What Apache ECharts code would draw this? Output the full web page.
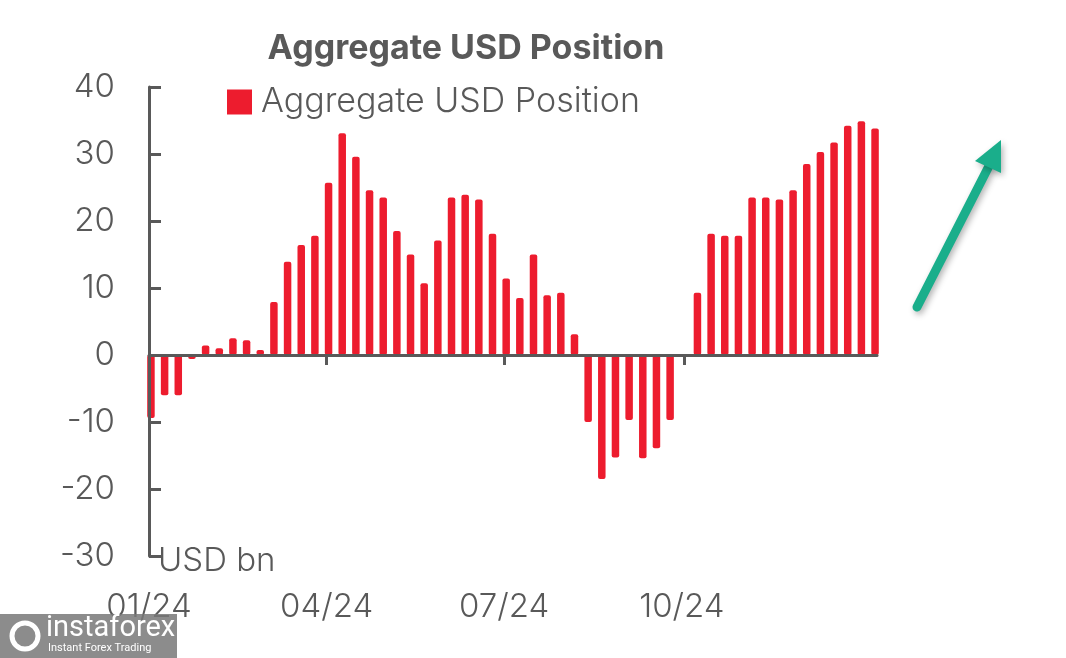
<!DOCTYPE html>
<html>
<head>
<meta charset="utf-8">
<script src="https://cdn.jsdelivr.net/npm/echarts@6/dist/echarts.min.js"></script>
<style>
html,body{margin:0;padding:0;background:#fff;}
#chart{width:1066px;height:658px;}
</style>
</head>
<body>
<div id="chart"></div>
<script>
// ---- data ----
const dates = [
  '2024-01-02','2024-01-09','2024-01-16','2024-01-23','2024-01-30',
  '2024-02-06','2024-02-13','2024-02-20','2024-02-27',
  '2024-03-05','2024-03-12','2024-03-19','2024-03-26',
  '2024-04-02','2024-04-09','2024-04-16','2024-04-23','2024-04-30',
  '2024-05-07','2024-05-14','2024-05-21','2024-05-28',
  '2024-06-04','2024-06-11','2024-06-18','2024-06-25',
  '2024-07-02','2024-07-09','2024-07-16','2024-07-23','2024-07-30',
  '2024-08-06','2024-08-13','2024-08-20','2024-08-27',
  '2024-09-03','2024-09-10','2024-09-17','2024-09-24',
  '2024-10-01','2024-10-08','2024-10-15','2024-10-22','2024-10-29',
  '2024-11-05','2024-11-12','2024-11-19','2024-11-26',
  '2024-12-03','2024-12-10','2024-12-17','2024-12-24','2024-12-31',
  '2025-01-07'
];
const usdPosition = [
  -9.4, -6.0, -6.0, -0.6, 1.4,
  1.0, 2.5, 2.2, 0.75,
  7.9, 13.9, 16.4, 17.8,
  25.7, 33.1, 29.6, 24.6, 23.5,
  18.5, 15.0, 10.7, 17.1,
  23.5, 23.9, 23.2, 18.1,
  11.4, 8.5, 15.0, 8.9, 9.3,
  3.1, -10.0, -18.5, -15.3,
  -9.7, -15.4, -13.9, -9.7,
  0, 9.3, 18.1, 17.8, 17.8,
  23.5, 23.5, 23.2, 24.6,
  28.5, 30.3, 31.7, 34.2, 34.9,
  33.8
];
const tickDates = ['2024-01-01','2024-04-01','2024-07-01','2024-10-01'];
const tickLabels = ['01/24','04/24','07/24','10/24'];
const seriesName = 'Aggregate USD Position';
const titleText = 'Aggregate USD Position';
const unitText = 'USD bn';

// ---- helpers ----
const base = Date.UTC(2024, 0, 1);
function dayOf(s) {
  const p = s.split('-').map(Number);
  return Math.round((Date.UTC(p[0], p[1] - 1, p[2]) - base) / 86400000);
}
const tickDays = tickDates.map(dayOf);
const barData = dates.map((d, i) => [dayOf(d), usdPosition[i]]);
function labelFor(v) {
  for (let i = 0; i < tickDays.length; i++) {
    if (Math.abs(tickDays[i] - v) <= 2) return tickLabels[i];
  }
  return '';
}

const GRAY = '#595959';
const RED = '#ED1C2E';
const FONT = "'Inter Light', Inter, sans-serif";
const FONT_B = "Inter, sans-serif";

const chart = echarts.init(document.getElementById('chart'));
chart.setOption({
  animation: false,
  backgroundColor: '#fff',
  title: {
    text: titleText,
    left: 466,
    textAlign: 'center',
    top: 32,
    padding: 0,
    textStyle: { fontFamily: FONT_B, fontWeight: 'bold', fontSize: 34, color: GRAY }
  },
  legend: {
    data: [seriesName],
    left: 227,
    top: 85,
    padding: 0,
    icon: 'rect',
    itemWidth: 25,
    itemHeight: 25,
    textStyle: { fontFamily: FONT, fontWeight: 300, fontSize: 34, color: GRAY, padding: [0, 0, 0, 4] }
  },
  grid: { left: 149, right: 189, top: 87, bottom: 102, outerBoundsMode: 'none', containLabel: false },
  xAxis: [
    {
      // bottom label axis
      type: 'value',
      position: 'bottom',
      min: 0,
      max: 373,
      interval: 91,
      splitLine: { show: false },
      axisLine: { show: false, onZero: false },
      axisTick: { show: false },
      axisLabel: {
        margin: 35,
        showMaxLabel: false,
        fontFamily: FONT, fontWeight: 300, fontSize: 33, color: GRAY,
        formatter: function (v) { return labelFor(v); }
      }
    },
    {
      // zero line axis
      type: 'value',
      position: 'top',
      min: 0,
      max: 373,
      interval: 91,
      z: 5,
      splitLine: { show: false },
      axisLine: { onZero: true, lineStyle: { color: GRAY, width: 3 } },
      axisTick: { show: true, inside: true, length: 10, customValues: tickDays.slice(1), lineStyle: { color: GRAY, width: 3 } },
      axisLabel: { show: false }
    }
  ],
  yAxis: {
    type: 'value',
    min: -30,
    max: 40,
    interval: 10,
    z: 5,
    splitLine: { show: false },
    axisLine: { show: true, onZero: false, lineStyle: { color: GRAY, width: 3 } },
    axisTick: { show: true, inside: true, length: 12, lineStyle: { color: GRAY, width: 3 } },
    axisLabel: { margin: 34, fontFamily: FONT, fontWeight: 300, fontSize: 33, color: GRAY }
  },
  series: [{
    name: seriesName,
    type: 'bar',
    xAxisIndex: 0,
    data: barData,
    barWidth: 7.5,
    itemStyle: { color: RED, borderRadius: 2 }
  }],
  graphic: [
    {
      type: 'text', left: 158, top: 545,
      style: { text: unitText, fontFamily: FONT, fontWeight: 300, fontSize: 33, fill: GRAY }
    },
    {
      type: 'line',
      shape: { x1: 917, y1: 307, x2: 989, y2: 166 },
      style: { stroke: '#1AAE8B', lineWidth: 9, lineCap: 'round',
               shadowBlur: 6, shadowColor: 'rgba(0,0,0,0.3)', shadowOffsetX: 2, shadowOffsetY: 3 }
    },
    {
      type: 'polygon',
      shape: { points: [[1001, 140], [975, 161], [1001, 173]] },
      style: { fill: '#1AAE8B', shadowBlur: 6, shadowColor: 'rgba(0,0,0,0.3)', shadowOffsetX: 2, shadowOffsetY: 3 }
    },
    {
      type: 'rect', z: 100,
      shape: { x: 0, y: 614, width: 177, height: 44 },
      style: { fill: 'rgba(120,120,120,0.85)' }
    },
    {
      type: 'circle', z: 101,
      shape: { cx: 25, cy: 636, r: 13 },
      style: { fill: 'none', stroke: '#fff', lineWidth: 5 }
    },
    {
      type: 'text', z: 101, left: 46, top: 614,
      style: { text: 'instaforex', fontFamily: 'Roboto', fontSize: 29, fill: '#fff' }
    },
    {
      type: 'text', z: 101, left: 48, top: 643,
      style: { text: 'Instant Forex Trading', fontFamily: 'Roboto', fontSize: 11, fill: '#fff' }
    }
  ]
});
</script>
</body>
</html>
